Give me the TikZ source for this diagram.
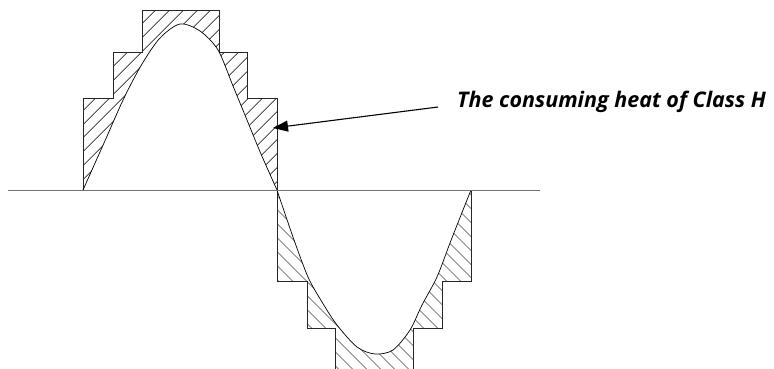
\documentclass[tikz,border=0pt]{standalone}
\usepackage{fontspec}
\setmainfont{Open Sans}
\usetikzlibrary{patterns.meta,arrows.meta,calc}
\begin{document}
\begin{tikzpicture}[x=1pt,y=-1pt,>={Triangle[length=15pt,width=11pt]}]
    \tikzstyle{outline}=[draw=black!85, line width=0.9pt]
    \tikzstyle{axis}=[draw=black!55, line width=0.9pt]
    \tikzstyle{wave}=[draw=black, line width=0.7pt]
    \tikzstyle{posheat}=[pattern={Lines[angle=45,distance=10.5pt,line width=0.6pt]}]
    \tikzstyle{negheat}=[pattern={Lines[angle=-45,distance=10.5pt,line width=0.6pt]}]
    \useasboundingbox (0,0) rectangle (774,368);
    % hatched heat, between the steps and the wave
    \fill[posheat, even odd rule] (83,190) |- (113,98) |- (142,52) |- (219,10) |- (247,52) |- (277,98) -- (277,190) -- cycle
        plot[smooth] coordinates {(83,190) (104,143) (124,98) (142,64) (160,38) (180,24) (200,31) (218,50) (233,86) (247,120) (261,154) (277,190)} -- cycle;
    \fill[negheat, even odd rule] (277,190) |- (307,281) |- (335,328) |- (413,370) |- (442,328) |- (471,281) -- (471,190) -- cycle
        plot[smooth] coordinates {(277,190) (293,237) (308,277) (322,302) (337,325) (357,347) (375,354) (393,350) (410,330) (422,305) (437,277) (450,243) (463,210) (471,190)} -- cycle;
    % steps
    \draw[outline] (83,190) |- (113,98) |- (142,52) |- (219,10) |- (247,52) |- (277,98) -- (277,190);
    \draw[outline] (277,190) |- (307,281) |- (335,328) |- (413,370) |- (442,328) |- (471,281) -- (471,190);
    % wave
    \draw[wave] plot[smooth] coordinates {(83,190) (104,143) (124,98) (142,64) (160,38) (180,24) (200,31) (218,50) (233,86) (247,120) (261,154) (277,190)};
    \draw[wave] plot[smooth] coordinates {(277,190) (293,237) (308,277) (322,302) (337,325) (357,347) (375,354) (393,350) (410,330) (422,305) (437,277) (450,243) (463,210) (471,190)};
    \draw[axis] (8,190) -- (540,190);
    % label
    \node[font=\bfseries\itshape\fontsize{21.5}{24}\selectfont, anchor=base west, inner sep=0pt] (heatlabel) at (457,107) {The consuming heat of Class H};
    \coordinate (hit) at (273,128);
    \draw[->, line width=1.1pt] ($(heatlabel.base west)+(-19,0)$) -- (hit);
\end{tikzpicture}
\end{document}
